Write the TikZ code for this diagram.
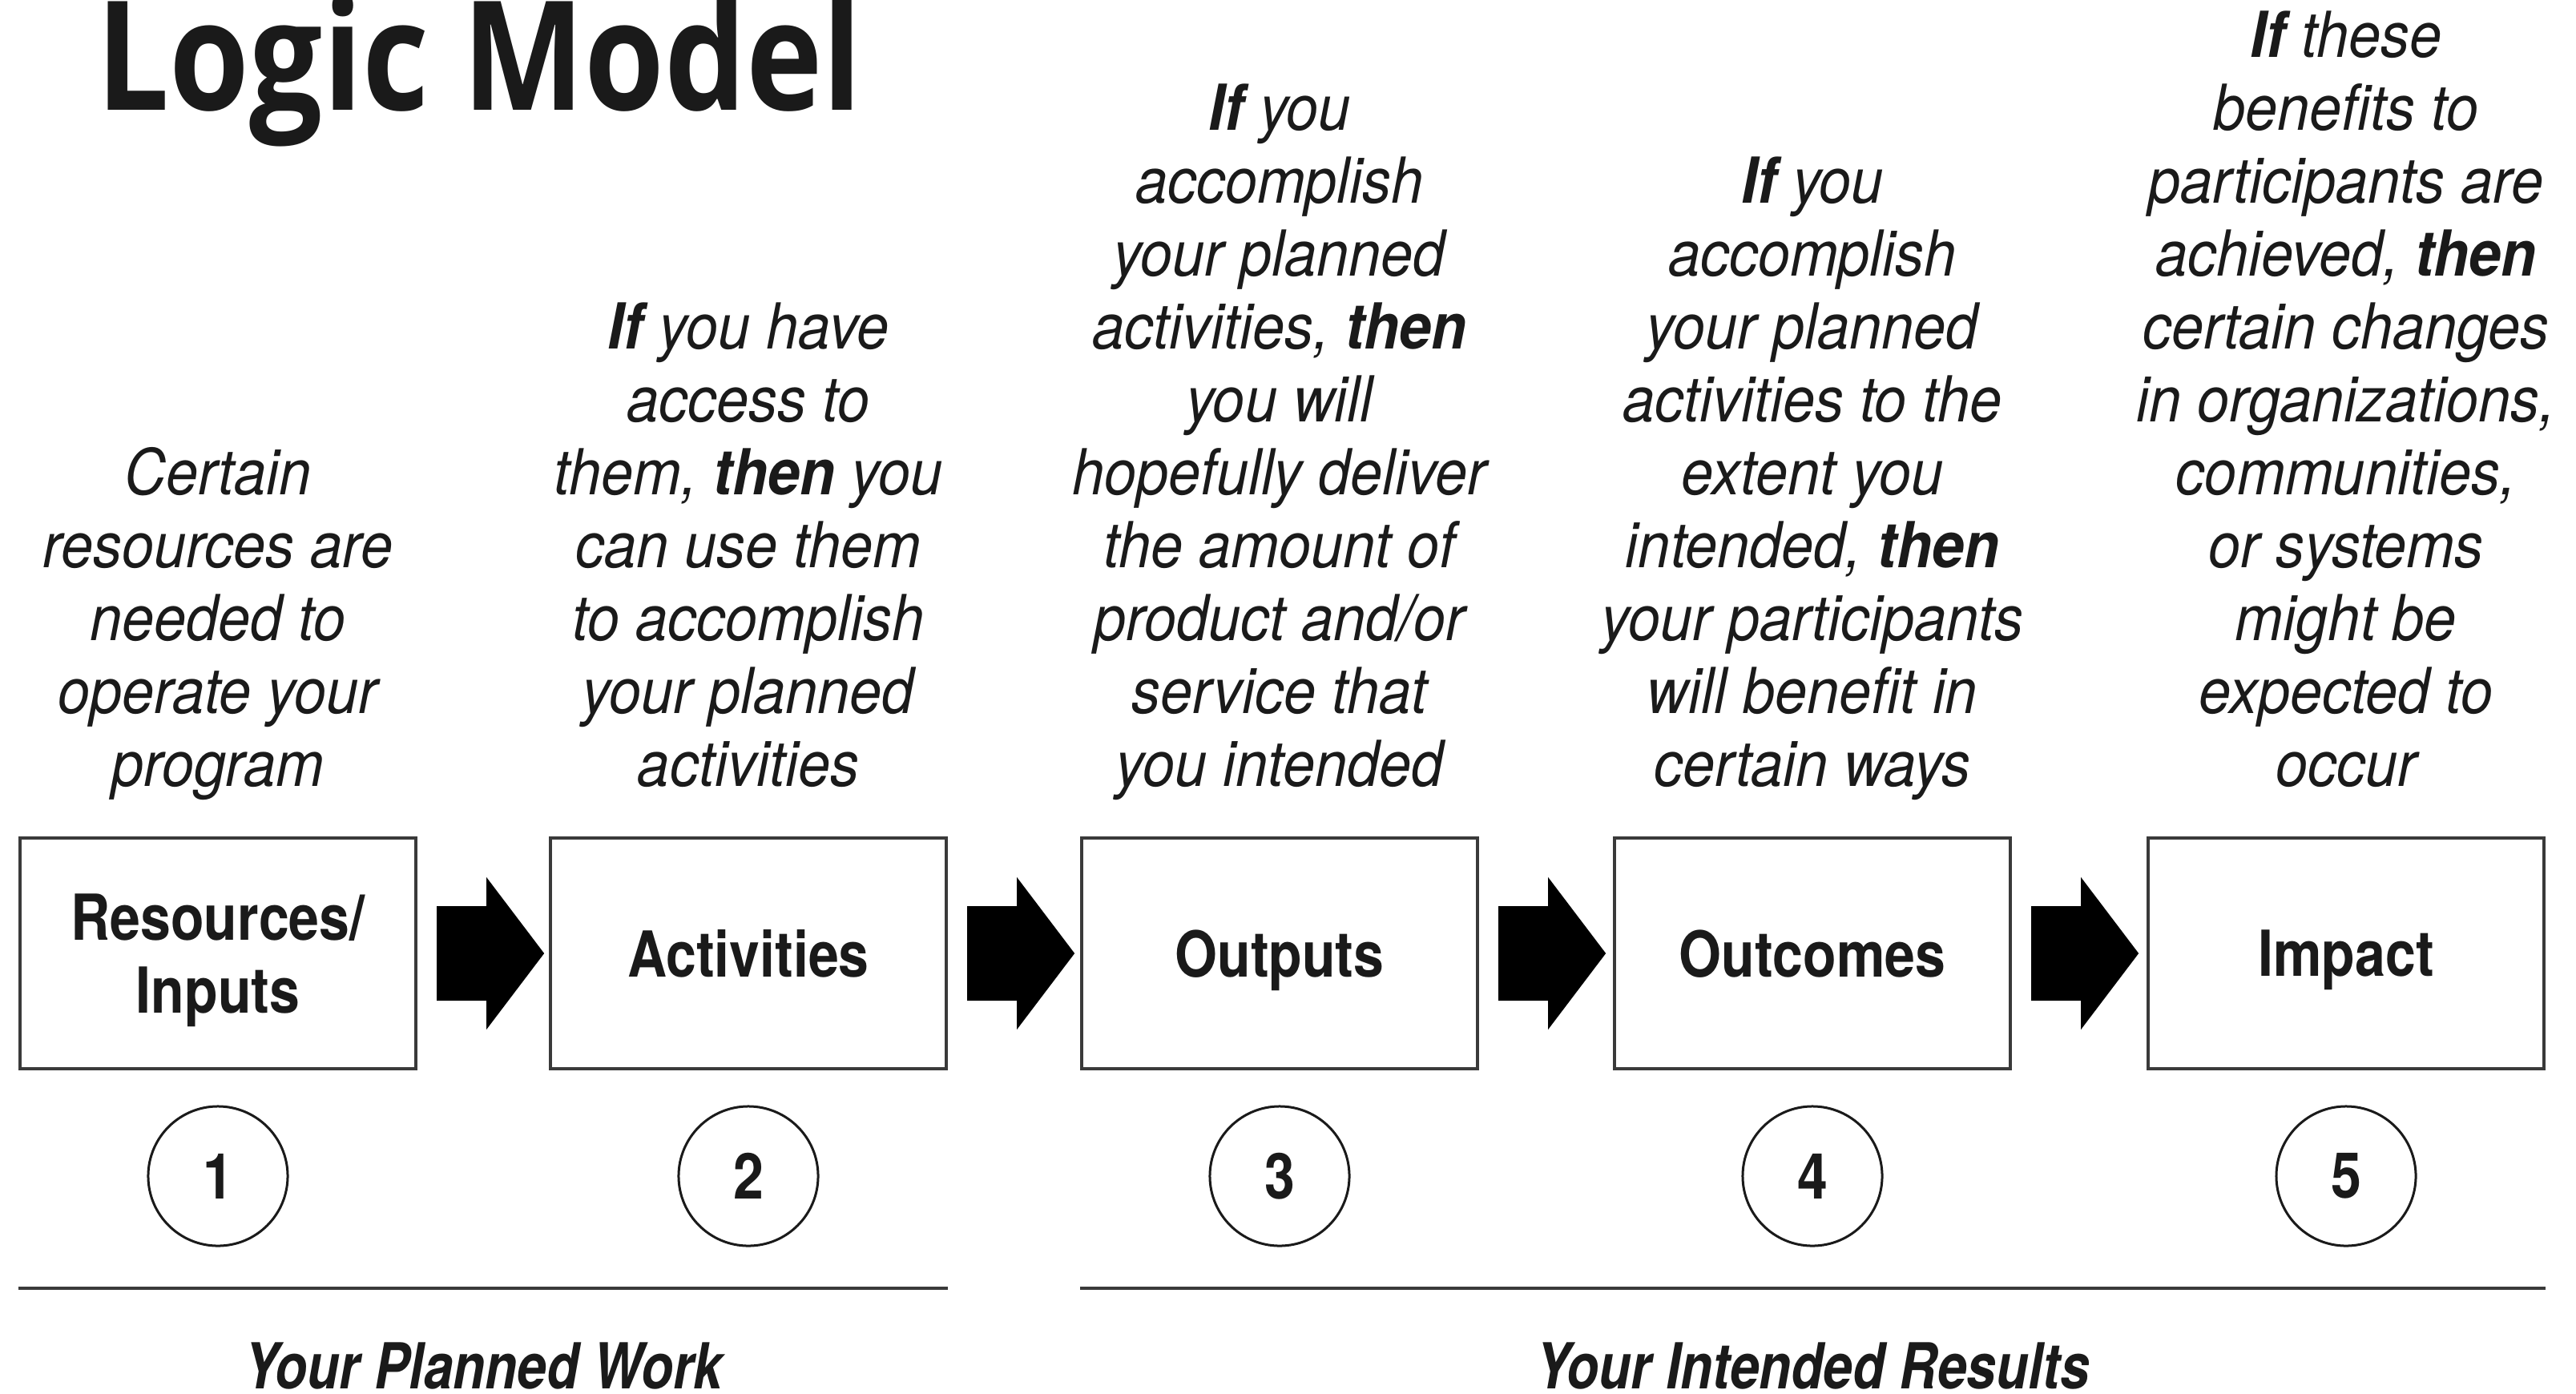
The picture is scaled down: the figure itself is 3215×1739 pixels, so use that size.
\documentclass[tikz,border=0pt]{standalone}
\usepackage{fontspec}
\setmainfont{TeX Gyre Heros}
\newfontfamily\bodyfont[FakeStretch=0.91]{TeX Gyre Heros}
\newfontfamily\boxfont[FakeStretch=0.86]{TeX Gyre Heros}
\newfontfamily\partfont[FakeStretch=0.83]{TeX Gyre Heros}
\newfontfamily\titlefont[FakeStretch=0.85]{Open Sans}
\usetikzlibrary{calc}
\definecolor{inkBlack}{RGB}{26, 26, 26}
\definecolor{frameGray}{RGB}{58, 58, 58}

\begin{document}
\begin{tikzpicture}[
    x=0.01cm, y=-0.01cm,
    every node/.style={text=inkBlack},
    stage/.style={rectangle, draw=frameGray, line width=0.04cm, minimum width=4.94cm, minimum height=2.87cm, inner sep=0pt, text depth=0pt, align=center, font=\boxfont\bfseries\fontsize{22.5pt}{25.9pt}\selectfont},
    stagenum/.style={circle, draw=inkBlack, line width=0.03cm, minimum size=1.74cm, inner sep=0pt, font=\boxfont\bfseries\fontsize{22.5pt}{25.9pt}\selectfont},
    premise/.style={anchor=south, align=center, inner sep=0pt, font=\bodyfont\itshape\fontsize{22.5pt}{25.9pt}\selectfont},
    flow/.style={fill=black},
    divider/.style={draw=frameGray, line width=0.035cm},
    grouplabel/.style={anchor=base, inner sep=0pt, font=\partfont\bfseries\itshape\fontsize{22.5pt}{25.9pt}\selectfont},
    heading/.style={anchor=base west, inner sep=0pt, font=\titlefont\bfseries\fontsize{54pt}{60pt}\selectfont},
]
\useasboundingbox[fill=white] (0,0) rectangle (3215,1739);
\node[heading] (title) at (120,137) {Logic Model};
\node[premise] (p1) at (272,1010) {Certain\\resources are\\needed to\\operate your\\program\strut};
\node[premise] (p2) at (934,1010) {\textbf{If} you have\\access to\\them, \textbf{then} you\\can use them\\to accomplish\\your planned\\activities\strut};
\node[premise] (p3) at (1597,1010) {\textbf{If} you\\accomplish\\your planned\\activities, \textbf{then}\\you will\\hopefully deliver\\the amount of\\product and/or\\service that\\you intended\strut};
\node[premise] (p4) at (2262,1010) {\textbf{If} you\\accomplish\\your planned\\activities to the\\extent you\\intended, \textbf{then}\\your participants\\will benefit in\\certain ways\strut};
\node[premise] (p5) at (2928,1010) {\textbf{If} these\\benefits to\\participants are\\achieved, \textbf{then}\\certain changes\\in organizations,\\communities,\\or systems\\might be\\expected to\\occur\strut};
\node[stage] (res) at (272,1190) {Resources/\\Inputs};
\node[stage] (act) at (934,1190) {Activities};
\node[stage] (outp) at (1597,1190) {Outputs};
\node[stage] (outc) at (2262,1190) {Outcomes};
\node[stage] (imp) at (2928,1190) {Impact};
\fill[flow] ($(res.east)+(24,-59)$) -- ++(62,0) -- ++(0,-36) -- ++(72,95) -- ++(-72,95) -- ++(0,-36) -- ++(-62,0) -- cycle;
\fill[flow] ($(act.east)+(24,-59)$) -- ++(62,0) -- ++(0,-36) -- ++(72,95) -- ++(-72,95) -- ++(0,-36) -- ++(-62,0) -- cycle;
\fill[flow] ($(outp.east)+(24,-59)$) -- ++(62,0) -- ++(0,-36) -- ++(72,95) -- ++(-72,95) -- ++(0,-36) -- ++(-62,0) -- cycle;
\fill[flow] ($(outc.east)+(24,-59)$) -- ++(62,0) -- ++(0,-36) -- ++(72,95) -- ++(-72,95) -- ++(0,-36) -- ++(-62,0) -- cycle;
\node[stagenum] (n1) at (272,1468) {1};
\node[stagenum] (n2) at (934,1468) {2};
\node[stagenum] (n3) at (1597,1468) {3};
\node[stagenum] (n4) at (2262,1468) {4};
\node[stagenum] (n5) at (2928,1468) {5};
\draw[divider] (res.west |- 0,1608) -- (act.east |- 0,1608);
\draw[divider] (outp.west |- 0,1608) -- (imp.east |- 0,1608);
\node[grouplabel] (planned) at (603,1733) {Your Planned Work};
\node[grouplabel] (intended) at (2262,1733) {Your Intended Results};
\end{tikzpicture}
\end{document}
